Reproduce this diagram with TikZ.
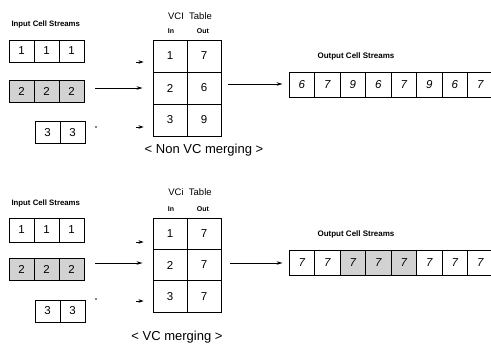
\documentclass[tikz,border=0pt]{standalone}
\usepackage{fontspec}
\setmainfont{Liberation Sans}
\usetikzlibrary{arrows.meta}
\begin{document}
\begin{tikzpicture}[x=1pt,y=-1pt,
  cellbox/.style={draw,line width=0.9pt,inner sep=0pt,minimum width=25pt,minimum height=22pt,font=\fontsize{11.5}{11.5}\selectfont},
  shadedcell/.style={cellbox,fill=gray!35},
  tabcell/.style={draw,line width=0.9pt,inner sep=0pt,minimum width=34pt,minimum height=32pt,font=\fontsize{11.5}{11.5}\selectfont},
  outcell/.style={draw,line width=0.9pt,inner sep=0pt,minimum width=25.5pt,minimum height=25pt,font=\itshape\fontsize{11.5}{11.5}\selectfont},
  outshade/.style={outcell,fill=gray!35},
  tinylabel/.style={font=\bfseries\fontsize{7.8}{7.8}\selectfont},
  inoutlabel/.style={font=\bfseries\fontsize{7}{7}\selectfont},
  outlabel/.style={font=\bfseries\fontsize{8}{8}\selectfont},
  titlelabel/.style={font=\fontsize{9.5}{9.5}\selectfont},
  caption/.style={font=\fontsize{13}{13}\selectfont},
  arr/.style={-{Stealth[length=6pt,width=3.5pt]},line width=0.7pt},
  stub/.style={-{Stealth[length=5pt,width=3.5pt]},line width=0.7pt}]
\clip (0,0) rectangle (491,345);
\fill[white] (0,0) rectangle (491,345);

% ================= TOP: Non VC merging =================
\node[tinylabel,anchor=west] (inT) at (8,24) {Input Cell Streams};
\node[cellbox] (a11) at (21.5,51) {1};
\node[cellbox] (a12) at (46.5,51) {1};
\node[cellbox] (a13) at (71.5,51) {1};
\node[shadedcell] (a21) at (21.5,91) {2};
\node[shadedcell] (a22) at (46.5,91) {2};
\node[shadedcell] (a23) at (71.5,91) {2};
\node[cellbox] (a31) at (47.5,132.5) {3};
\node[cellbox] (a32) at (72.5,132.5) {3};

\node[titlelabel] (tT) at (190,16) {VCI\ \ Table};
\node[inoutlabel] (tInT) at (171,31) {In};
\node[inoutlabel] (tOutT) at (203,31) {Out};
\node[tabcell] (t11) at (170,56) {1};
\node[tabcell] (t12) at (204,56) {7};
\node[tabcell] (t21) at (170,88) {2};
\node[tabcell] (t22) at (204,88) {6};
\node[tabcell] (t31) at (170,120) {3};
\node[tabcell] (t32) at (204,120) {9};
\node[caption] (capT) at (204,150) {< Non VC merging >};

\coordinate (s2T) at (95,88);
\draw[arr,shorten >=10pt] (s2T) -- (t21.west |- s2T);
\coordinate (s1T) at (136,62);
\draw[stub,shorten >=9pt] (s1T) -- (t21.west |- s1T);
\coordinate (s3T) at (136,127);
\draw[stub,shorten >=9pt] (s3T) -- (t31.west |- s3T);
\fill (96,127) circle (0.8);

\node[outlabel] (oT) at (356,56) {Output Cell Streams};
\foreach \v [count=\i from 0] in {6,7,9,6,7,9,6,7}{
  \node[outcell] (o\i T) at (301.75+25.5*\i,84.5) {\v};
}
\coordinate (tsT) at (228,84);
\draw[arr,shorten >=6pt] (tsT) -- (o0T.west |- tsT);

% ================= BOTTOM: VC merging =================
\node[tinylabel,anchor=west] (inB) at (8,203) {Input Cell Streams};
\node[cellbox,minimum height=24pt] (b11) at (21.5,230) {1};
\node[cellbox,minimum height=24pt] (b12) at (46.5,230) {1};
\node[cellbox,minimum height=24pt] (b13) at (71.5,230) {1};
\node[shadedcell] (b21) at (21.5,269) {2};
\node[shadedcell] (b22) at (46.5,269) {2};
\node[shadedcell] (b23) at (71.5,269) {2};
\node[cellbox] (b31) at (47.5,311) {3};
\node[cellbox] (b32) at (72.5,311) {3};

\node[titlelabel] (tB) at (190,192) {VCi\ \ Table};
\node[inoutlabel] (tInB) at (171,209) {In};
\node[inoutlabel] (tOutB) at (203,209) {Out};
\node[tabcell,minimum height=31.3pt] (u11) at (170,233.7) {1};
\node[tabcell,minimum height=31.3pt] (u12) at (204,233.7) {7};
\node[tabcell,minimum height=31.3pt] (u21) at (170,265) {2};
\node[tabcell,minimum height=31.3pt] (u22) at (204,265) {7};
\node[tabcell,minimum height=31.3pt] (u31) at (170,296.3) {3};
\node[tabcell,minimum height=31.3pt] (u32) at (204,296.3) {7};
\node[caption] (capB) at (177,337) {< VC merging >};

\coordinate (s2B) at (95,263);
\draw[arr,shorten >=10pt] (s2B) -- (u21.west |- s2B);
\coordinate (s1B) at (136,242);
\draw[stub,shorten >=9pt] (s1B) -- (u11.west |- s1B);
\coordinate (s3B) at (136,301);
\draw[stub,shorten >=9pt] (s3B) -- (u31.west |- s3B);
\fill (96,299) circle (0.8);

\node[outlabel] (oB) at (356,234) {Output Cell Streams};
\foreach \v/\s [count=\i from 0] in {7/outcell,7/outcell,7/outshade,7/outshade,7/outshade,7/outcell,7/outcell,7/outcell}{
  \node[\s] (p\i B) at (301.75+25.5*\i,263) {\v};
}
\coordinate (tsB) at (230,263);
\draw[arr,shorten >=6pt] (tsB) -- (p0B.west |- tsB);
\end{tikzpicture}
\end{document}
